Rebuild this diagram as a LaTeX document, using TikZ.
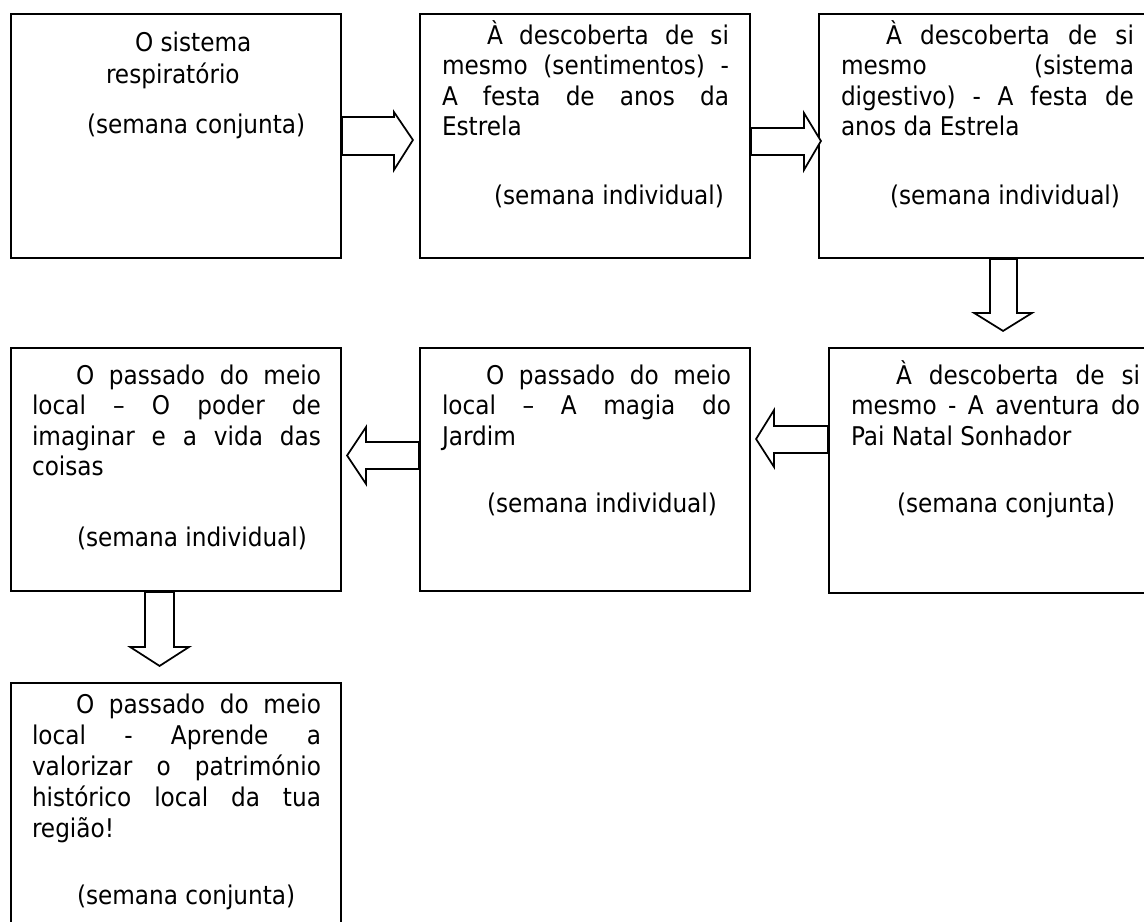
\documentclass[tikz,border=0pt]{standalone}
\usepackage{fontspec}
\setmainfont{DejaVu Sans Condensed}
\usetikzlibrary{calc}
\newlength\px \setlength\px{0.75pt}
\newlength\refw
\newcommand\jfirst[2][45]{\hbox to\hsize{\kern#1\px #2}}
\newcommand\jline[1]{\hbox to\hsize{#1}}
\newcommand\pline[2][0]{\hbox{\kern#1\px #2}}
\newcommand\gapv[1]{\vskip#1\px\relax}
\newcommand\pitch[1]{\lineskiplimit=-100pt\relax\baselineskip=#1\px\relax}
\tikzset{
  blk/.style={draw=black, line width=1.4pt, fill=white, inner sep=0pt, rectangle},
  barrow/.style={draw=black, line width=1.3pt, fill=white, line join=miter},
  txt/.style={inner sep=0pt, outer sep=0pt, anchor=base west, font=\fontsize{\fsz pt}{22pt}\selectfont, text=black}
}
\begin{document}
\settowidth\refw{\fontsize{10pt}{12pt}\selectfont (semana individual)}%
\pgfmathsetmacro\fsz{10*172.5/\refw}%
\begin{tikzpicture}[x=0.75pt,y=-0.75pt]
\useasboundingbox (0,0) rectangle (1144,921);
\clip (0,0) rectangle (1144,921);
% boxes
\node[blk, minimum width=247.5pt, minimum height=183pt] (b1) at (176,136) {};
\node[blk, minimum width=247.5pt, minimum height=183pt] (b2) at (585,136) {};
\node[blk, minimum width=252.75pt, minimum height=183pt] (b3) at (987.5,136) {};
\node[blk, minimum width=247.5pt, minimum height=182.25pt] (b4) at (176,469.5) {};
\node[blk, minimum width=247.5pt, minimum height=182.25pt] (b5) at (585,469.5) {};
\node[blk, minimum width=249.75pt, minimum height=183.75pt] (b6) at (995.5,470.5) {};
\node[blk, minimum width=247.5pt, minimum height=192.75pt] (b7) at (176,811.5) {};
% texts
\node[txt] (t1) at (87,51) {\parbox[t]{260\px}{\pitch{32}%
  \pline[48]{O sistema}
  \pline[19]{respiratório}
  \gapv{18}
  \pline{(semana conjunta)}}};
\node[txt] (t2) at (442,44) {\parbox[t]{287\px}{\pitch{30.5}%
  \jfirst{À descoberta de si}
  \jline{mesmo (sentimentos) -}
  \jline{A festa de anos da}
  \pline{Estrela}
  \gapv{38}
  \pline[52]{(semana individual)}}};
\node[txt] (t3) at (841,44) {\parbox[t]{293\px}{\pitch{30.5}%
  \jfirst{À descoberta de si}
  \jline{mesmo (sistema}
  \jline{digestivo) - A festa de}
  \pline{anos da Estrela}
  \gapv{38}
  \pline[49]{(semana individual)}}};
\node[txt] (t4) at (32,384) {\parbox[t]{289\px}{\pitch{30.5}%
  \jfirst[44]{O passado do meio}
  \jline{local – O poder de}
  \jline{imaginar e a vida das}
  \pline{coisas}
  \gapv{40}
  \pline[45]{(semana individual)}}};
\node[txt] (t5) at (442,384) {\parbox[t]{289\px}{\pitch{30.5}%
  \jfirst[44]{O passado do meio}
  \jline{local – A magia do}
  \pline{Jardim}
  \gapv{37}
  \pline[45]{(semana individual)}}};
\node[txt] (t6) at (851,384) {\parbox[t]{289\px}{\pitch{30.5}%
  \jfirst{À descoberta de si}
  \jline{mesmo - A aventura do}
  \pline{Pai Natal Sonhador}
  \gapv{37}
  \pline[46]{(semana conjunta)}}};
\node[txt] (t7) at (32,713) {\parbox[t]{289\px}{\pitch{31}%
  \jfirst[44]{O passado do meio}
  \jline{local - Aprende a}
  \jline{valorizar o património}
  \jline{histórico local da tua}
  \pline{região!}
  \gapv{36}
  \pline[45]{(semana conjunta)}}};
% block arrows
\draw[barrow] (b1.east) ++(0,-19) -- ++(52,0) -- ++(0,-5) -- ++(19,28) -- ++(-19,30) -- ++(0,-15) -- ++(-52,0) -- cycle;
\draw[barrow] (b2.east) ++(0,-8) -- ++(53,0) -- ++(0,-15) -- ++(17,28) -- ++(-17,29) -- ++(0,-15) -- ++(-53,0) -- cycle;
\draw[barrow] (b3.south west) ++(172,0) -- ++(0,54) -- ++(-16,0) -- ++(29,18) -- ++(29,-18) -- ++(-15,0) -- ++(0,-54) -- cycle;
\draw[barrow] (b6.west) ++(0,-44.5) -- ++(-54,0) -- ++(0,-16) -- ++(-18,29) -- ++(18,28) -- ++(0,-14) -- ++(54,0) -- cycle;
\draw[barrow] (b5.west) ++(0,-27.5) -- ++(-53,0) -- ++(0,-15) -- ++(-19,28.5) -- ++(19,28.5) -- ++(0,-15) -- ++(53,0) -- cycle;
\draw[barrow] (b4.south west) ++(135,0) -- ++(0,55) -- ++(-15,0) -- ++(29.5,19) -- ++(29.5,-19) -- ++(-15,0) -- ++(0,-55) -- cycle;
\end{tikzpicture}
\end{document}
